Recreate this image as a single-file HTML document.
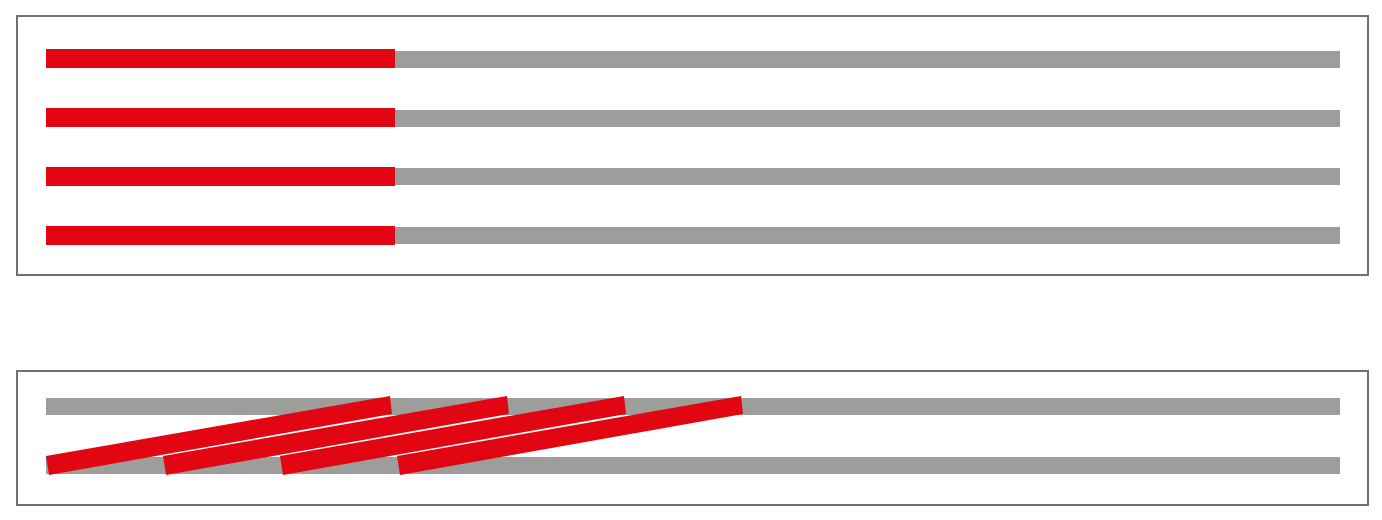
<!DOCTYPE html>
<html><head><meta charset="utf-8"><style>html,body{margin:0;padding:0;background:#fff;}svg{display:block}</style></head>
<body>
<svg width="1382" height="520" viewBox="0 0 1382 520" xmlns="http://www.w3.org/2000/svg">
<rect x="17" y="16" width="1351" height="259" fill="none" stroke="#707070" stroke-width="2"/>
<g fill="#9d9d9c">
<rect x="46" y="51" width="1294" height="17"/>
<rect x="46" y="110" width="1294" height="17"/>
<rect x="46" y="168" width="1294" height="17"/>
<rect x="46" y="227" width="1294" height="17"/>
</g>
<g fill="#e20613">
<rect x="46" y="49" width="349" height="19"/>
<rect x="46" y="108" width="349" height="19"/>
<rect x="46" y="167" width="349" height="19"/>
<rect x="46" y="226" width="349" height="19"/>
</g>
<rect x="17" y="371" width="1351" height="134" fill="none" stroke="#707070" stroke-width="2"/>
<g fill="#9d9d9c">
<rect x="46" y="398" width="1294" height="17"/>
<rect x="46" y="457" width="1294" height="17"/>
</g>
<g fill="#e20613">
<polygon points="46,456 390,396 392,414 49,475"/>
<line x1="163" y1="456" x2="393" y2="415.9" stroke="#fff" stroke-width="1.3"/>
<polygon points="163,456 507,396 509,414 166,475"/>
<line x1="280" y1="456" x2="510" y2="415.9" stroke="#fff" stroke-width="1.3"/>
<polygon points="280,456 624,396 626,414 283,475"/>
<line x1="397" y1="456" x2="627" y2="415.9" stroke="#fff" stroke-width="1.3"/>
<polygon points="397,456 741,396 743,414 400,475"/>
</g>
</svg>
</body></html>
